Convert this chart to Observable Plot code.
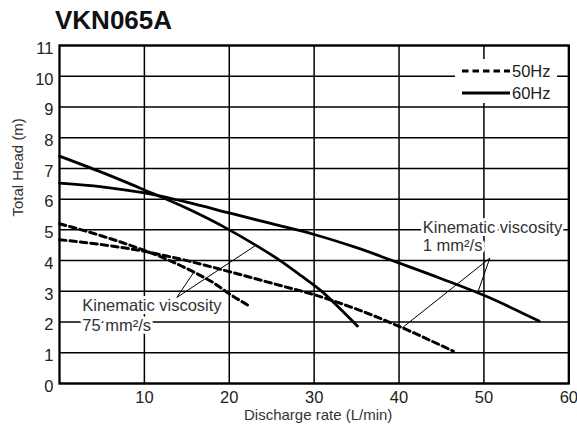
<!DOCTYPE html>
<html>
<head>
<meta charset="utf-8">
<script src="https://cdn.jsdelivr.net/npm/d3@7"></script>
<script src="https://cdn.jsdelivr.net/npm/@observablehq/plot@0.6"></script>
<style>
  html, body { margin: 0; padding: 0; background: #fff; }
  #wrap { position: relative; width: 577px; height: 432px; font-family: "Liberation Sans", Arial, sans-serif; }
  #title { position: absolute; left: 55px; top: 7px; font-size: 26px; line-height: 26px; font-weight: bold; color: #111; }
  #legend { position: absolute; left: 455px; top: 59px; width: 102px; height: 44px; background: #fff; }
</style>
</head>
<body>
<div id="wrap">
  <div id="chart"></div>
  <div id="title">VKN065A</div>
  <div id="legend"></div>
</div>
<script>
// ---- data ----
const xTicks = [10, 20, 30, 40, 50, 60];
const yTicks = [0, 1, 2, 3, 4, 5, 6, 7, 8, 9, 10, 11];
const xLabel = "Discharge rate (L/min)";
const yLabel = "Total Head (m)";

// 60Hz, kinematic viscosity 1 mm2/s
const q60_1 = [0, 5, 10, 15, 20, 25, 30, 35, 40, 45, 50, 56.5];
const h60_1 = [6.52, 6.4, 6.2, 5.9, 5.55, 5.2, 4.85, 4.42, 3.92, 3.41, 2.87, 2.03];
// 60Hz, kinematic viscosity 75 mm2/s
const q60_75 = [0, 5, 10, 15, 20, 23, 26, 28.5, 30.9, 33, 35.1];
const h60_75 = [7.4, 6.87, 6.3, 5.7, 5.0, 4.52, 4.0, 3.5, 3.0, 2.45, 1.87];
// 50Hz, kinematic viscosity 1 mm2/s
const q50_1 = [0, 5, 10, 15, 20, 26, 30, 35, 40, 46.4];
const h50_1 = [4.68, 4.52, 4.3, 4.0, 3.64, 3.19, 2.89, 2.42, 1.86, 1.05];
// 50Hz, kinematic viscosity 75 mm2/s
const q50_75 = [0, 5, 10, 13, 15.8, 18, 20, 22.5];
const h50_75 = [5.2, 4.8, 4.33, 4.0, 3.63, 3.3, 2.92, 2.5];

// annotations
const noteText = ["Kinematic viscosity", "75 mm²/s", "Kinematic viscosity", "1 mm²/s"];
const noteX = [2.68, 2.68, 42.8, 42.8];
const noteY = [2.52, 1.87, 5.06, 4.49];
// leader lines
const leadX1 = [13.82, 13.82, 50.7, 50.7];
const leadY1 = [2.80, 2.80, 4.08, 4.08];
const leadX2 = [15.82, 23.09, 40.37, 49.28];
const leadY2 = [3.62, 4.49, 1.81, 2.97];

const legendLabels = ["50Hz", "60Hz"];

// ---- build tables ----
const toRows = (q, h) => q.map((x, i) => ({x, y: h[i]}));
const solid = [toRows(q60_1, h60_1), toRows(q60_75, h60_75)];
const dashed = [toRows(q50_1, h50_1), toRows(q50_75, h50_75)];
const notes = noteText.map((t, i) => ({t, x: noteX[i], y: noteY[i]}));
const leaders = leadX1.map((x1, i) => ({x1, y1: leadY1[i], x2: leadX2[i], y2: leadY2[i]}));

const FONT = "Liberation Sans, Arial, sans-serif";

const chart = Plot.plot({
  width: 577,
  height: 432,
  marginLeft: 59,
  marginRight: 8.7,
  marginTop: 45,
  marginBottom: 49,
  style: {fontFamily: FONT, fontSize: "15px", color: "#222", background: "white"},
  x: {domain: [0, 60]},
  y: {domain: [0, 11]},
  marks: [
    Plot.gridX(xTicks, {stroke: "#000", strokeOpacity: 1, strokeWidth: 1.5}),
    Plot.gridY(yTicks, {stroke: "#000", strokeOpacity: 1, strokeWidth: 1.5}),
    ...solid.map(d => Plot.line(d, {x: "x", y: "y", stroke: "#000", strokeWidth: 2.8, curve: "monotone-x"})),
    ...dashed.map(d => Plot.line(d, {x: "x", y: "y", stroke: "#000", strokeWidth: 3, strokeDasharray: "6.5,4", curve: "monotone-x"})),
    Plot.link(leaders, {x1: "x1", y1: "y1", x2: "x2", y2: "y2", stroke: "#000", strokeWidth: 1}),
    Plot.text(notes, {x: "x", y: "y", text: "t", textAnchor: "start", fontSize: 16.5, fill: "#333", stroke: "white", strokeWidth: 6}),
    Plot.axisX(xTicks, {tickSize: 0, tickPadding: 8, fontSize: 16.5, fill: "#222", label: null}),
    Plot.axisY(yTicks, {tickSize: 0, tickPadding: 6, fontSize: 16.5, fill: "#222", dy: 3, label: null}),
    Plot.text([xLabel], {frameAnchor: "bottom", dy: 36, dx: 4, fontSize: 15, fill: "#333"}),
    Plot.text([yLabel], {frameAnchor: "left", rotate: -90, dx: -41.5, dy: 2, fontSize: 15, fill: "#333"}),
    Plot.frame({stroke: "#000", strokeWidth: 2.3})
  ]
});
document.getElementById("chart").appendChild(chart);

// legend (HTML/SVG overlay with white background)
const lg = d3.select("#legend").append("svg").attr("width", 102).attr("height", 44);
legendLabels.forEach((lab, i) => {
  const y = 12 + i * 22;
  lg.append("line").attr("x1", 7).attr("x2", 55).attr("y1", y).attr("y2", y)
    .attr("stroke", "#000").attr("stroke-width", 3)
    .attr("stroke-dasharray", i === 0 ? "6.5,4" : null);
  lg.append("text").attr("x", 57).attr("y", y).attr("dy", "0.35em")
    .attr("font-family", FONT).attr("font-size", 16.5).attr("fill", "#222").text(lab);
});
</script>
</body>
</html>
